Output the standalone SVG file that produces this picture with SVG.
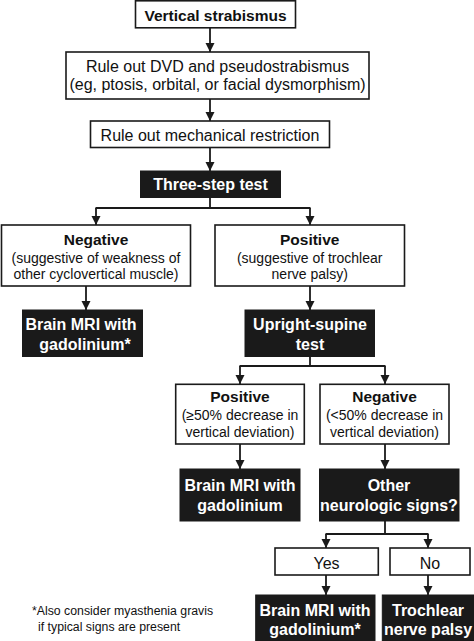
<svg xmlns="http://www.w3.org/2000/svg" width="474" height="641" viewBox="0 0 474 641">
<style>
.w{fill:#fff;stroke:#1a1a1a;stroke-width:1.6}
.b{fill:#1a1a1a;stroke:#1a1a1a;stroke-width:1}
text{font-family:"Liberation Sans",Arial,sans-serif;text-anchor:middle;fill:#111}
.bt{font-weight:bold;font-size:15.5px}
.rt{font-size:16px}
.st{font-size:14px}
.wt{font-weight:bold;font-size:16px;fill:#fff}
.fn{font-size:12.3px;text-anchor:start}
.c{fill:none;stroke:#1a1a1a;stroke-width:1.8}
</style>
<defs>
<marker id="ah" markerUnits="userSpaceOnUse" markerWidth="10" markerHeight="10" refX="9" refY="5" orient="auto">
<path d="M0,0.5 L9,5 L0,9.5 z" fill="#1a1a1a"/>
</marker>
</defs>
<g id="connectors">
<line class="c" x1="210" y1="28" x2="210" y2="52" marker-end="url(#ah)"/>
<line class="c" x1="210" y1="99" x2="210" y2="121" marker-end="url(#ah)"/>
<line class="c" x1="210" y1="147" x2="210" y2="171" marker-end="url(#ah)"/>
<path class="c" d="M210,197 V208 M95.5,208 H310.5"/>
<line class="c" x1="96" y1="208" x2="96" y2="225" marker-end="url(#ah)"/>
<line class="c" x1="310" y1="208" x2="310" y2="225" marker-end="url(#ah)"/>
<line class="c" x1="86" y1="286" x2="86" y2="310" marker-end="url(#ah)"/>
<line class="c" x1="310" y1="286" x2="310" y2="310" marker-end="url(#ah)"/>
<path class="c" d="M310,357 V366 M239.5,366 H385.5"/>
<line class="c" x1="240" y1="366" x2="240" y2="384" marker-end="url(#ah)"/>
<line class="c" x1="385" y1="366" x2="385" y2="384" marker-end="url(#ah)"/>
<line class="c" x1="240" y1="444" x2="240" y2="469" marker-end="url(#ah)"/>
<line class="c" x1="385" y1="444" x2="385" y2="469" marker-end="url(#ah)"/>
<path class="c" d="M385,521 V534 M325.5,534 H428.5"/>
<line class="c" x1="326" y1="534" x2="326" y2="548" marker-end="url(#ah)"/>
<line class="c" x1="428" y1="534" x2="428" y2="548" marker-end="url(#ah)"/>
<line class="c" x1="326" y1="575" x2="326" y2="595" marker-end="url(#ah)"/>
<line class="c" x1="428" y1="575" x2="428" y2="595" marker-end="url(#ah)"/>
</g>
<g id="vertical-strabismus">
<rect class="w" x="135.5" y="0.8" width="160" height="27"/>
<text class="bt" x="215.5" y="20.5">Vertical strabismus</text>
</g>
<g id="rule-out-dvd">
<rect class="w" x="66" y="52" width="303" height="47"/>
<text class="rt" x="217.5" y="71.5">Rule out DVD and pseudostrabismus</text>
<text class="rt" x="217.5" y="90">(eg, ptosis, orbital, or facial dysmorphism)</text>
</g>
<g id="rule-out-mechanical">
<rect class="w" x="90.5" y="121" width="239" height="26.5"/>
<text class="rt" x="210" y="140.5">Rule out mechanical restriction</text>
</g>
<g id="three-step-test">
<rect class="b" x="140.5" y="171" width="140" height="26.5"/>
<text class="wt" x="210.5" y="190">Three-step test</text>
</g>
<g id="negative-1">
<rect class="w" x="1.5" y="225" width="189" height="61"/>
<text class="bt" x="96" y="245">Negative</text>
<text class="st" x="96" y="262.5">(suggestive of weakness of</text>
<text class="st" x="96" y="279">other cyclovertical muscle)</text>
</g>
<g id="positive-1">
<rect class="w" x="215" y="225" width="189.5" height="61"/>
<text class="bt" x="309.7" y="245">Positive</text>
<text class="st" x="309.7" y="262.5">(suggestive of trochlear</text>
<text class="st" x="309.7" y="279">nerve palsy)</text>
</g>
<g id="brain-mri-1">
<rect class="b" x="22.5" y="310" width="120" height="46.5"/>
<text class="wt" x="81" y="330">Brain MRI with</text>
<text class="wt" x="85" y="350">gadolinium*</text>
</g>
<g id="upright-supine">
<rect class="b" x="245" y="310" width="129.5" height="46.5"/>
<text class="wt" x="310" y="330">Upright-supine</text>
<text class="wt" x="310" y="350">test</text>
</g>
<g id="positive-2">
<rect class="w" x="175.7" y="384.3" width="128.6" height="59.7"/>
<text class="bt" x="240" y="402">Positive</text>
<text class="st" x="240" y="419.5">(≥50% decrease in</text>
<text class="st" x="240" y="437">vertical deviation)</text>
</g>
<g id="negative-2">
<rect class="w" x="320" y="384.3" width="129" height="59.7"/>
<text class="bt" x="384.5" y="402">Negative</text>
<text class="st" x="384.5" y="419.5">(&lt;50% decrease in</text>
<text class="st" x="384.5" y="437">vertical deviation)</text>
</g>
<g id="brain-mri-2">
<rect class="b" x="180" y="469" width="120" height="52"/>
<text class="wt" x="240" y="490.5">Brain MRI with</text>
<text class="wt" x="240" y="510.5">gadolinium</text>
</g>
<g id="other-neurologic">
<rect class="b" x="319.5" y="469" width="139.5" height="52"/>
<text class="wt" x="389" y="490.5">Other</text>
<text class="wt" x="389" y="510.5">neurologic signs?</text>
</g>
<g id="yes">
<rect class="w" x="275" y="548" width="103.3" height="27"/>
<text class="rt" x="326.5" y="569">Yes</text>
</g>
<g id="no">
<rect class="w" x="390" y="548" width="80" height="27"/>
<text class="rt" x="430" y="569">No</text>
</g>
<g id="brain-mri-3">
<rect class="b" x="255.7" y="595" width="119.3" height="46"/>
<text class="wt" x="315" y="615.5">Brain MRI with</text>
<text class="wt" x="315" y="635">gadolinium*</text>
</g>
<g id="trochlear-palsy">
<rect class="b" x="382.3" y="595" width="91.7" height="46"/>
<text class="wt" x="428" y="615.5">Trochlear</text>
<text class="wt" x="428" y="635">nerve palsy</text>
</g>
<g id="footnote">
<text class="fn" x="32" y="614.5">*Also consider myasthenia gravis</text>
<text class="fn" x="38" y="631">if typical signs are present</text>
</g>
</svg>
